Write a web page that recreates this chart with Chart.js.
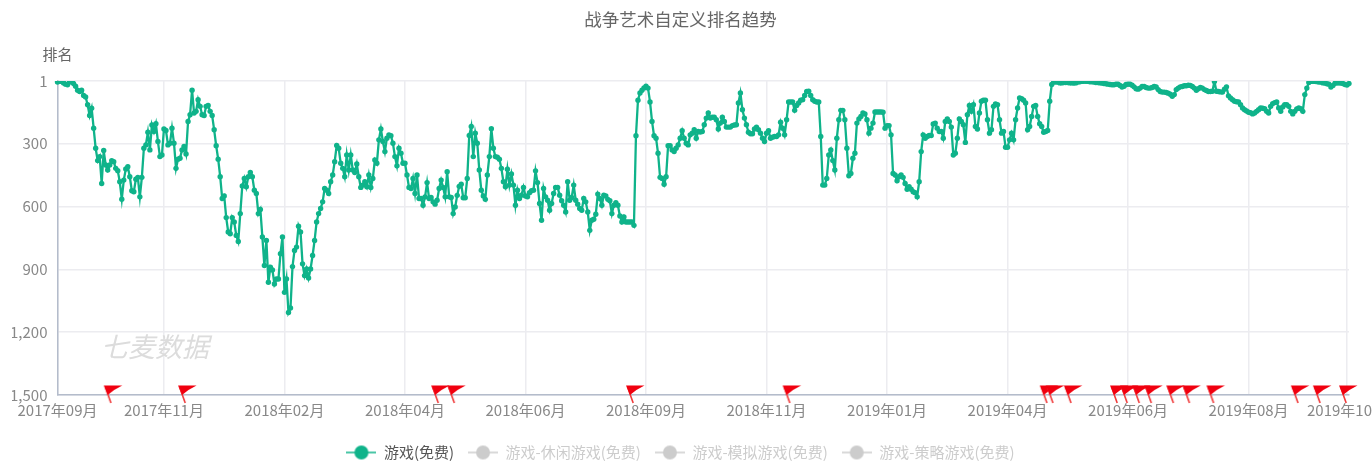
<!DOCTYPE html>
<html>
<head>
<meta charset="utf-8">
<style>
  html, body { margin: 0; padding: 0; background: #fff; overflow: hidden; }
  canvas { display: block; filter: blur(0.45px); }
</style>
<script src="https://cdn.jsdelivr.net/npm/chart.js@4"></script>
</head>
<body>
<canvas id="rank-chart" width="1372" height="470"></canvas>
<script>
const titleText = "战争艺术自定义排名趋势";
const yName = "排名";
const watermark = "七麦数据";
const seriesNames = ["游戏(免费)", "游戏-休闲游戏(免费)", "游戏-模拟游戏(免费)", "游戏-策略游戏(免费)"];
const xTickIndex = [0, 53, 113, 173, 233, 293, 353, 413, 473, 533, 593, 642];
const xTickLabels = ["2017年09月", "2017年11月", "2018年02月", "2018年04月", "2018年06月", "2018年09月", "2018年11月", "2019年01月", "2019年04月", "2019年06月", "2019年08月", "2019年10月"];
const yTicks = [1, 300, 600, 900, 1200, 1500];
const flagIndex = [25, 62, 188, 196, 285, 363, 491, 494, 503, 526, 531, 537, 543, 554, 562, 574, 616, 627, 640];

const ranks = [
  6,3,3,10,16,19,6,5,13,26,45,51,45,70,77,114,166,131,226,322,381,362,490,333,402,426,402,381,386,418,429,482,565,474,421,410,458,525,530,470,461,554,461,322,306,246,330,211,242,205,290,362,354,230,
  237,306,298,226,298,418,374,370,330,314,349,194,162,45,154,146,90,122,162,166,122,118,146,166,234,310,374,458,562,550,653,722,730,653,674,738,767,634,502,466,506,458,438,458,522,538,634,614,746,882,762,962,890,903,970,946,946,826,746,1010,
  946,1106,1085,887,810,794,694,722,874,930,898,941,898,834,762,674,634,610,578,514,522,538,482,450,386,309,322,394,418,458,354,426,354,426,438,397,458,509,498,482,506,450,509,466,378,394,282,230,290,338,274,258,262,298,362,406,322,346,394,394,
  450,509,514,466,538,450,562,562,594,554,486,562,557,578,589,570,514,474,509,554,434,554,557,634,602,547,504,494,558,558,466,261,218,362,250,298,426,522,550,566,450,362,229,322,362,365,374,418,482,506,422,498,445,498,594,522,562,546,509,550,
  554,534,525,522,430,486,586,666,514,554,570,618,586,538,509,509,546,573,594,626,482,570,557,498,570,589,610,618,562,578,626,714,666,661,637,541,562,594,546,550,566,573,634,594,582,594,645,674,650,674,674,674,674,690,262,93,58,45,34,26,
  35,101,194,262,274,346,461,466,494,458,310,310,330,338,322,306,274,238,274,298,306,258,250,234,274,242,245,242,210,178,154,178,174,174,186,230,202,174,194,221,221,221,214,211,210,106,58,138,178,210,246,253,253,230,221,234,250,274,290,250,
  238,274,269,266,266,258,198,226,258,186,101,101,101,141,118,106,93,90,70,51,50,70,90,98,101,101,266,498,498,466,354,330,381,426,274,186,141,141,186,322,453,442,370,346,202,182,170,154,158,186,250,226,202,149,149,149,149,150,226,214,
  214,258,442,450,477,458,450,461,490,518,506,518,530,534,554,482,338,258,274,266,261,261,206,202,226,242,242,274,194,182,194,221,354,346,274,182,194,210,294,162,118,146,114,218,230,154,98,93,93,186,250,234,122,110,114,186,250,242,317,317,
  282,250,282,186,130,82,86,93,106,234,218,170,122,118,170,205,218,246,242,237,98,18,6,6,6,10,10,8,8,8,10,10,11,10,6,5,3,2,2,3,5,5,6,8,8,10,11,13,14,16,
  18,19,19,16,16,22,30,26,18,16,16,21,29,38,40,35,27,27,32,35,35,32,27,30,42,51,54,54,56,59,64,74,66,42,35,29,27,24,24,21,22,27,35,45,38,32,35,42,46,51,
  51,50,3,50,51,53,54,40,29,72,82,90,98,100,101,114,130,138,144,150,152,158,154,146,138,130,131,133,146,154,122,109,104,101,130,146,125,114,114,122,146,158,146,134,130,133,146,66,35,8,
  3,2,3,4,6,6,10,11,14,16,30,22,12,10,10,11,13,18,20,13
];

const green = "#0fb38a";
const greyOff = "#cccccc";
const fontName = "'Noto Sans CJK SC', 'Noto Sans', sans-serif";

function legendIcon(color) {
  const c = document.createElement("canvas");
  c.width = 30;
  c.height = 16;
  const g = c.getContext("2d");
  g.strokeStyle = color;
  g.lineWidth = 1.5;
  g.beginPath();
  g.moveTo(0, 8);
  g.lineTo(30, 8);
  g.stroke();
  g.fillStyle = color;
  g.beginPath();
  g.arc(15, 8, 7, 0, Math.PI * 2);
  g.fill();
  return c;
}

function flagIcon() {
  const c = document.createElement("canvas");
  c.width = 48;
  c.height = 48;
  const g = c.getContext("2d");
  g.translate(24, 24);
  g.strokeStyle = "#f03a3a";
  g.lineWidth = 1.6;
  g.beginPath();
  g.moveTo(-2.5, -8);
  g.lineTo(3.2, 8);
  g.stroke();
  g.fillStyle = "#f0000f";
  g.beginPath();
  g.moveTo(-4, -9.5);
  g.lineTo(14.5, -9.5);
  g.quadraticCurveTo(6, -5.5, 0, 0);
  g.quadraticCurveTo(-2, -5, -4, -9.5);
  g.fill();
  return c;
}

const extras = {
  id: "extras",
  beforeDatasetsDraw(chart) {
    const ctx = chart.ctx;
    ctx.save();
    ctx.font = "italic 27px " + fontName;
    ctx.fillStyle = "#dcdcdc";
    ctx.textAlign = "left";
    ctx.textBaseline = "middle";
    ctx.fillText(watermark, 101, 347);
    ctx.font = "15px " + fontName;
    ctx.fillStyle = "#666";
    ctx.textAlign = "center";
    ctx.fillText(yName, chart.chartArea.left, 54);
    ctx.restore();
  },
};

const flagPic = flagIcon();
const datasets = [
  {
    label: seriesNames[0],
    data: ranks,
    borderColor: green,
    backgroundColor: green,
    borderWidth: 2.3,
    pointRadius: 2.7,
    pointBorderWidth: 0,
    pointBackgroundColor: green,
    tension: 0,
  },
];
for (let i = 1; i < seriesNames.length; i++) {
  datasets.push({ label: seriesNames[i], data: [], hidden: true, borderColor: greyOff, backgroundColor: greyOff });
}
datasets.push({
  label: "flags",
  type: "scatter",
  data: flagIndex.map((i) => ({ x: i, y: yTicks[yTicks.length - 1] })),
  pointStyle: flagPic,
  clip: false,
  showLine: false,
});

document.addEventListener("DOMContentLoaded", (event) => {
  new Chart(document.getElementById("rank-chart").getContext("2d"), {
    type: "line",
    data: { labels: ranks.map((v, i) => i), datasets: datasets },
    options: {
      responsive: false,
      animation: false,
      layout: { padding: { left: 12, right: 23, top: 0, bottom: 0 } },
      scales: {
        x: {
          type: "category",
          offset: false,
          afterBuildTicks(scale) {
            scale.ticks = xTickIndex.map((i) => ({ value: i }));
          },
          afterFit(scale) {
            scale.paddingLeft = 0;
            scale.paddingRight = 0;
            scale.height = 36;
          },
          border: { color: "#b4bccb", width: 1.5 },
          grid: { color: "#ececf0", lineWidth: 1.5, drawTicks: false },
          ticks: {
            autoSkip: false,
            maxRotation: 0,
            padding: 6,
            color: "#888",
            font: { size: 15, family: fontName },
            callback(value) {
              return xTickLabels[xTickIndex.indexOf(value)];
            },
          },
        },
        y: {
          reverse: true,
          min: yTicks[0],
          max: yTicks[yTicks.length - 1],
          afterBuildTicks(scale) {
            scale.ticks = yTicks.map((v) => ({ value: v }));
          },
          afterFit(scale) {
            scale.paddingTop = 0;
            scale.paddingBottom = 0;
            scale.width = 45.5;
          },
          border: { color: "#b4bccb", width: 1.5 },
          grid: { color: "#ececf0", lineWidth: 1.5, drawTicks: false },
          ticks: {
            padding: 10,
            color: "#888",
            font: { size: 15, family: fontName },
            callback(value) {
              return value.toLocaleString("en-US");
            },
          },
        },
      },
      plugins: {
        title: {
          display: true,
          text: titleText,
          color: "#666",
          font: { size: 17.5, weight: "normal", family: fontName },
          padding: { top: 9, bottom: 51 },
        },
        tooltip: { enabled: false },
        legend: {
          position: "bottom",
          labels: {
            usePointStyle: true,
            pointStyleWidth: 30,
            padding: 14,
            font: { size: 15, family: fontName },
            generateLabels() {
              return seriesNames.map((name, i) => ({
                text: name,
                datasetIndex: i,
                hidden: false,
                fontColor: i == 0 ? "#555" : greyOff,
                pointStyle: legendIcon(i == 0 ? green : greyOff),
              }));
            },
          },
        },
      },
    },
    plugins: [extras],
  });
});
</script>
</body>
</html>
